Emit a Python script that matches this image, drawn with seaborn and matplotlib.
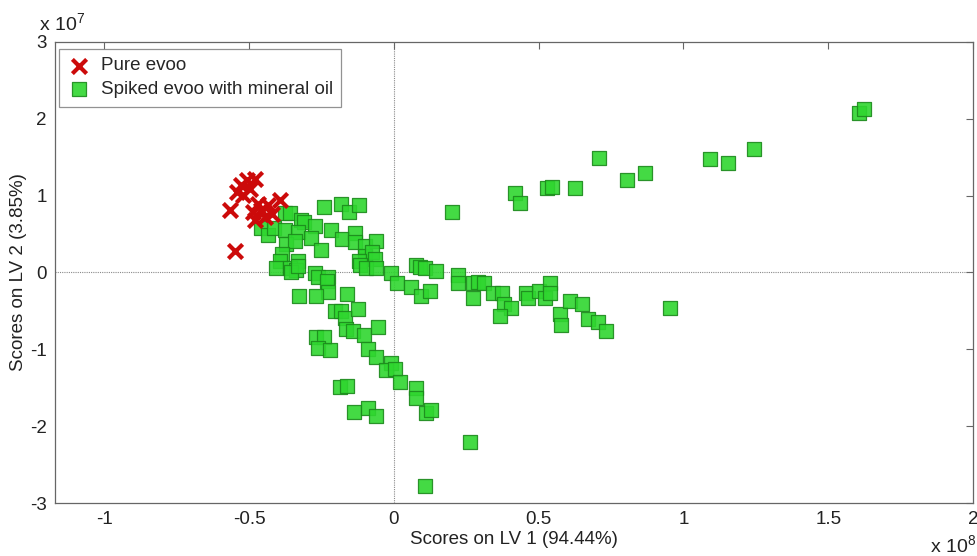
import matplotlib
matplotlib.use("Agg")
import matplotlib.pyplot as plt
import seaborn as sns
import pandas as pd

# Scores: LV1 in units of 1e8, LV2 in units of 1e7
pure_lv1 = [-0.566, -0.548, -0.543, -0.526, -0.508, -0.480, -0.520, -0.497,
            -0.485, -0.468, -0.445, -0.434, -0.422, -0.393, -0.458, -0.480]
pure_lv2 = [0.807, 0.286, 1.046, 1.133, 1.198, 1.220, 1.003, 1.090,
            0.785, 0.895, 0.720, 0.872, 0.764, 0.938, 0.807, 0.677]

spiked_lv1 = [
    -0.241, -0.182, -0.155, -0.120, -0.375, -0.358, -0.320, -0.310, -0.458, -0.434,
    -0.413, -0.375, -0.330, -0.272, -0.286, -0.217, -0.179, -0.134, -0.134, -0.100,
    -0.062, -0.372, -0.341, -0.251, -0.386, -0.392, -0.330, -0.100, -0.076, -0.065,
    -0.120, -0.406, -0.358, -0.337, -0.117, -0.096, -0.062, -0.272, -0.262, -0.227,
    -0.355, -0.330, -0.231, -0.227, -0.327, -0.268, -0.162, -0.203, -0.182, -0.169,
    -0.124, -0.165, -0.141, -0.103, -0.055, -0.268, -0.241, -0.262, -0.220, -0.090,
    -0.062, -0.010, -0.028, 0.003, 0.021, -0.186, -0.162, 0.076, 0.076, -0.138,
    -0.090, -0.062, 0.110, 0.127, 0.262, 0.107, -0.010, 0.010, 0.076, 0.090,
    0.107, 0.145, 0.059, 0.093, 0.124, 0.220, 0.220, 0.272, 0.289, 0.313,
    0.275, 0.341, 0.375, 0.382, 0.403, 0.368, 0.458, 0.465, 0.503, 0.523,
    0.540, 0.540, 0.575, 0.578, 0.609, 0.651, 0.671, 0.706, 0.733, 0.954,
    0.200, 0.420, 0.437, 0.530, 0.547, 0.626, 0.709, 0.805, 0.867, 1.091,
    1.153, 1.243, 1.608, 1.625]
spiked_lv2 = [
    0.846, 0.885, 0.781, 0.872, 0.768, 0.768, 0.677, 0.651, 0.573, 0.482,
    0.573, 0.547, 0.521, 0.599, 0.443, 0.547, 0.430, 0.508, 0.391, 0.339,
    0.404, 0.365, 0.404, 0.299, 0.247, 0.156, 0.156, 0.221, 0.273, 0.182,
    0.156, 0.065, 0.065, 0.026, 0.104, 0.065, 0.065, -0.013, -0.065, -0.065,
    0.000, 0.091, -0.117, -0.260, -0.312, -0.312, -0.286, -0.495, -0.495, -0.586,
    -0.469, -0.729, -0.755, -0.807, -0.703, -0.833, -0.833, -0.977, -1.003, -0.990,
    -1.094, -1.172, -1.263, -1.250, -1.419, -1.484, -1.471, -1.497, -1.628, -1.810,
    -1.758, -1.862, -1.823, -1.784, -2.201, -2.773, -0.013, -0.143, 0.104, 0.078,
    0.065, 0.013, -0.195, -0.300, -0.247, -0.039, -0.143, -0.143, -0.130, -0.143,
    -0.326, -0.273, -0.273, -0.404, -0.456, -0.560, -0.273, -0.326, -0.247, -0.326,
    -0.143, -0.273, -0.534, -0.677, -0.365, -0.404, -0.599, -0.638, -0.755, -0.456,
    0.781, 1.029, 0.898, 1.094, 1.107, 1.094, 1.484, 1.198, 1.289, 1.471,
    1.419, 1.602, 2.070, 2.122]

x_ticks = [-1, -0.5, 0, 0.5, 1, 1.5, 2]
x_tick_labels = ["-1", "-0.5", "0", "0.5", "1", "1.5", "2"]
y_ticks = [-3, -2, -1, 0, 1, 2, 3]
y_tick_labels = ["-3", "-2", "-1", "0", "1", "2", "3"]

sns.set_theme(style="white")
plt.rcParams['font.family'] = ['Liberation Sans', 'DejaVu Sans']
plt.rcParams['mathtext.fontset'] = 'custom'
plt.rcParams['mathtext.rm'] = 'Liberation Sans'

fig = plt.figure(figsize=(9.77, 5.56), dpi=100)
ax = fig.add_axes([0.0563, 0.0953, 0.9396, 0.8292])

pure_df = pd.DataFrame({"lv1": pure_lv1, "lv2": pure_lv2})
spiked_df = pd.DataFrame({"lv1": spiked_lv1, "lv2": spiked_lv2})

ax.axhline(0, color="#8a8a8a", lw=0.8, ls=(0, (1, 1)), zorder=0)
ax.axvline(0, color="#8a8a8a", lw=0.8, ls=(0, (1, 1)), zorder=0)

sns.scatterplot(data=spiked_df, x="lv1", y="lv2", marker="s", s=95,
                color="#2fd62f", edgecolor="#1c8a1c", linewidth=0.9, alpha=0.9,
                ax=ax, label="Spiked evoo with mineral oil", zorder=3)
sns.scatterplot(data=pure_df, x="lv1", y="lv2", marker="x", s=105,
                color="#cc0a0a", linewidth=3, ax=ax, label="Pure evoo", zorder=4)

ax.set_xlim(-1.17, 2)
ax.set_ylim(-3, 3)
ax.set_xticks(x_ticks)
ax.set_xticklabels(x_tick_labels)
ax.set_yticks(y_ticks)
ax.set_yticklabels(y_tick_labels)
ax.tick_params(direction="in", length=5, width=0.8, color="#666666",
               top=True, right=True, labelsize=13.5, labelcolor="#222222", pad=6)
for sp in ax.spines.values():
    sp.set_color("#666666")
    sp.set_linewidth(0.9)

ax.set_xlabel("Scores on LV 1 (94.44%)", fontsize=13.5, color="#222222", labelpad=2)
ax.set_ylabel("Scores on LV 2 (3.85%)", fontsize=13.5, color="#222222", labelpad=2)

fig.text(0.040, 0.957, r"x 10$^{7}$", fontsize=14, color="#222222", va="center")
fig.text(0.952, 0.018, r"x 10$^{8}$", fontsize=14, color="#222222", va="center")

handles, labels = ax.get_legend_handles_labels()
order = [labels.index("Pure evoo"), labels.index("Spiked evoo with mineral oil")]
leg = ax.legend([handles[i] for i in order], [labels[i] for i in order],
                loc="upper left", bbox_to_anchor=(0.004, 0.985), borderaxespad=0,
                fontsize=13.5, frameon=True, fancybox=False, handletextpad=0.5,
                borderpad=0.45, labelspacing=0.35, handlelength=1.3)
leg.get_frame().set_edgecolor("#777777")
leg.get_frame().set_linewidth(0.9)

fig.savefig("out.png", dpi=100)
